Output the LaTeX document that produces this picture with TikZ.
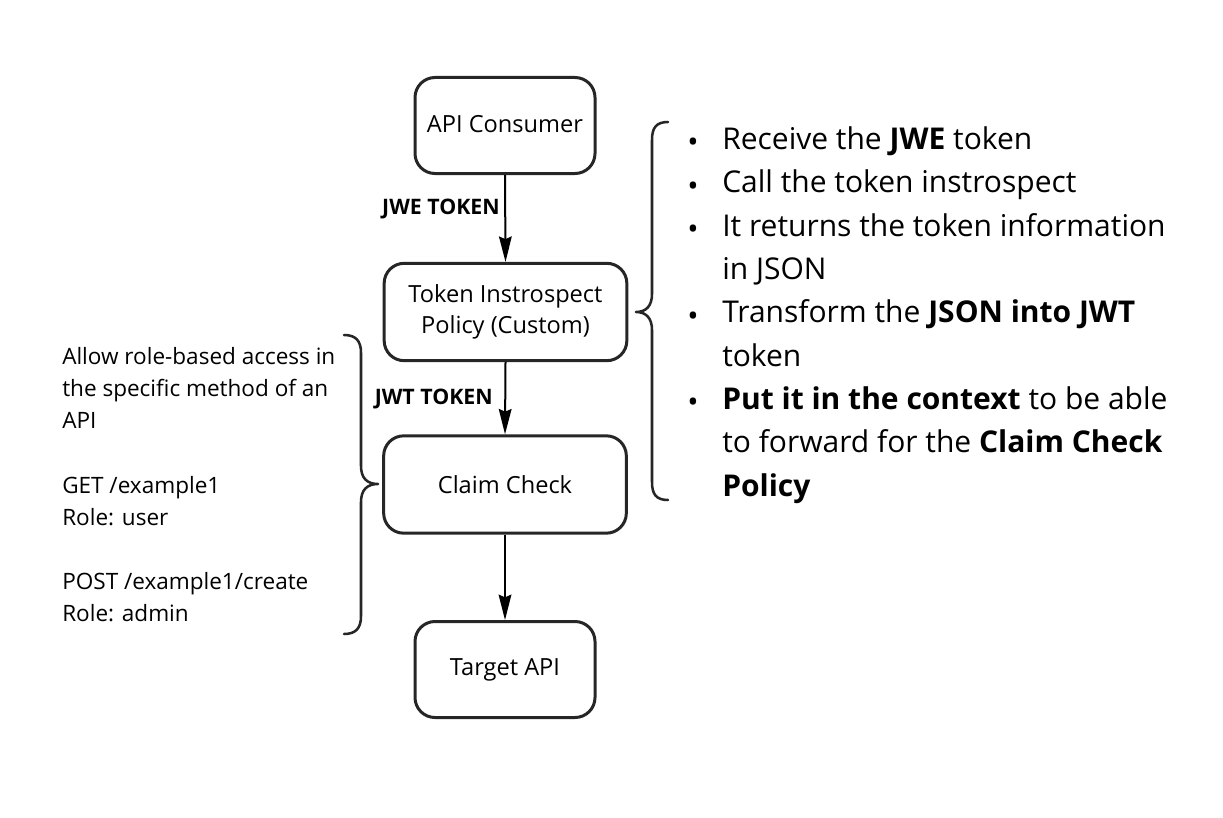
\documentclass[tikz,border=0pt]{standalone}
\usepackage{fontspec}
\setmainfont{Open Sans}
\usetikzlibrary{arrows.meta}
\tikzset{
  procbox/.style={draw=black!85, line width=2.25pt, rounded corners=15pt, minimum width=135pt, minimum height=72pt, align=center, font=\fontsize{17.7}{23.5}\selectfont, inner sep=0pt},
  flow/.style={draw=black, line width=1.5pt, -{Stealth[length=19pt,width=9.5pt,inset=2pt]}},
  flowlabel/.style={font=\bfseries\fontsize{16}{18}\selectfont, anchor=east, inner sep=0pt},
  bracepath/.style={draw=black!85, line width=1.9pt, line cap=round, line join=round},
}
\newcommand{\bul}{\raisebox{-2.4pt}{•}}
\begin{document}
\begin{tikzpicture}[x=0.75pt,y=-0.75pt]
\useasboundingbox (0,0) rectangle (1223,817);
% boxes
\node[procbox] (cons) at (505,125.5) {\raisebox{2.2pt}{API Consumer}};
\node[procbox, minimum width=182pt, minimum height=73pt] (intro) at (505.5,312) {Token Instrospect\\Policy (Custom)};
\node[procbox, minimum width=182pt, minimum height=73pt] (claim) at (505,484.5) {Claim Check};
\node[procbox] (target) at (505,669.5) {Target API};
% arrows
\draw[flow] (cons.south) -- (intro.north);
\draw[flow] (intro.south) -- (claim.north);
\draw[flow] (claim.south) -- (target.north);
\node[flowlabel] (l1) at (500,209) {JWE TOKEN};
\node[flowlabel] (l2) at (493,399) {JWT TOKEN};
% right brace
\coordinate (rb) at (636,312);
\draw[bracepath] (668,122) .. controls (656,122) and (652,128) .. (652,140)
  -- (652,294) .. controls (652,306) and (646,312) .. (rb)
  .. controls (646,312) and (652,318) .. (652,330)
  -- (652,482) .. controls (652,494) and (656,500) .. (668,500);
% left brace
\coordinate (lb) at (378,484);
\draw[bracepath] (344,335) .. controls (356,335) and (361,341) .. (361,353)
  -- (361,466) .. controls (361,478) and (367,484) .. (lb)
  .. controls (367,484) and (361,490) .. (361,502)
  -- (361,616) .. controls (361,628) and (356,634) .. (344,634);
% right text
\node[anchor=north west, inner sep=0pt] (bul) at (687,119) {\fontsize{22.5}{32.5}\selectfont
\begin{tabular}{@{}p{26.25pt}@{}l@{}}
\bul & Receive the \textbf{JWE} token\\
\bul & Call the token instrospect\\
\bul & It returns the token information\\
 & in JSON\\
\bul & Transform the \textbf{JSON into JWT}\\
 & token\\
\bul & \textbf{Put it in the context} to be able\\
 & to forward for the \textbf{Claim Check}\\
 & \textbf{Policy}
\end{tabular}};
% left text
\node[anchor=north west, inner sep=0pt] (note) at (62,341.5) {\fontsize{16.9}{24.15}\selectfont
\begin{tabular}{@{}l@{}}
Allow role-based access in\\
the specific method of an\\
API\\
\\
GET /example1\\
Role: user\\
\\
POST /example1/create\\
Role: admin
\end{tabular}};
\end{tikzpicture}
\end{document}
